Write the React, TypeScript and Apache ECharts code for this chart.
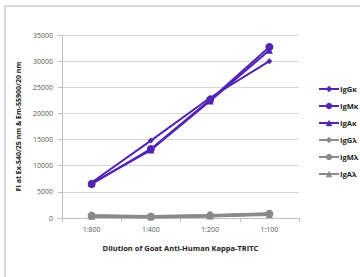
import React, { useEffect, useRef } from "react";
import * as echarts from "echarts";

const categories = ["1:800", "1:400", "1:200", "1:100"];
const seriesNames = ["IgGκ", "IgMκ", "IgAκ", "IgGλ", "IgMλ", "IgAλ"];
const igGk = [6800, 14800, 23000, 30000];
const igMk = [6500, 13200, 22600, 32700];
const igAk = [6600, 13000, 22400, 32100];
const igGl = [400, 250, 450, 750];
const igMl = [450, 300, 500, 800];
const igAl = [350, 200, 400, 650];
const yTicks = [0, 35000, 5000];

const purple = "#5224b4";
const grey = "#8a8a8a";

export default function App() {
  const ref = useRef<HTMLDivElement>(null);
  useEffect(() => {
    const chart = echarts.init(ref.current!, null, { renderer: "svg" });
    const data = [igGk, igMk, igAk, igGl, igMl, igAl];
    const symbols = ["diamond", "circle", "triangle", "diamond", "circle", "triangle"];
    const sizes = [6, 8, 7, 6, 8, 7];
    chart.setOption({
      animation: false,
      backgroundColor: "#fff",
      textStyle: { fontFamily: "Open Sans" },
      graphic: [
        {
          type: "rect",
          shape: { x: 5, y: 6, width: 400, height: 320 },
          style: { fill: "none", stroke: "#d9d9d9", lineWidth: 2 },
          silent: true,
        },
      ],
      grid: { left: 62, right: 61, top: 35, bottom: 59 },
      legend: {
        orient: "vertical",
        left: 313,
        top: 80,
        itemWidth: 20,
        itemHeight: 8,
        itemGap: 9,
        textStyle: { fontSize: 7.5, fontWeight: "bold", color: "#222", padding: [0, 0, 0, -4] },
        data: seriesNames,
      },
      xAxis: {
        type: "category",
        data: categories,
        boundaryGap: true,
        name: "Dilution of Goat Anti-Human Kappa-TRITC",
        nameLocation: "middle",
        nameGap: 26,
        nameTextStyle: { fontSize: 7.5, fontWeight: "bold", color: "#222" },
        axisLine: { lineStyle: { color: "#bfbfbf" } },
        axisTick: { show: true, alignWithLabel: false, length: 4, lineStyle: { color: "#bfbfbf" } },
        axisLabel: { fontSize: 7, color: "#555", margin: 8 },
      },
      yAxis: {
        type: "value",
        min: yTicks[0],
        max: yTicks[1],
        interval: yTicks[2],
        name: "FI at Ex-540/25 nm & Em-55900/20 nm",
        nameLocation: "middle",
        nameGap: 40,
        nameTextStyle: { fontSize: 7, fontWeight: "bold", color: "#222" },
        axisLine: { show: true, lineStyle: { color: "#bfbfbf" } },
        axisTick: { show: true, length: 4, lineStyle: { color: "#bfbfbf" } },
        axisLabel: { fontSize: 7, color: "#555", margin: 9, formatter: (v: number) => String(v) },
        splitLine: { lineStyle: { color: "#d6d6d6" } },
      },
      series: seriesNames.map((name, i) => ({
        name,
        type: "line",
        data: data[i],
        symbol: symbols[i],
        symbolSize: sizes[i],
        itemStyle: { color: i < 3 ? purple : grey },
        lineStyle: { color: i < 3 ? purple : grey, width: i < 3 ? 2 : 3 },
      })),
    });
    return () => chart.dispose();
  }, []);
  return (
    <div
      ref={ref}
      style={{ position: "fixed", left: 0, top: 0, width: 360, height: 277 }}
    />
  );
}
